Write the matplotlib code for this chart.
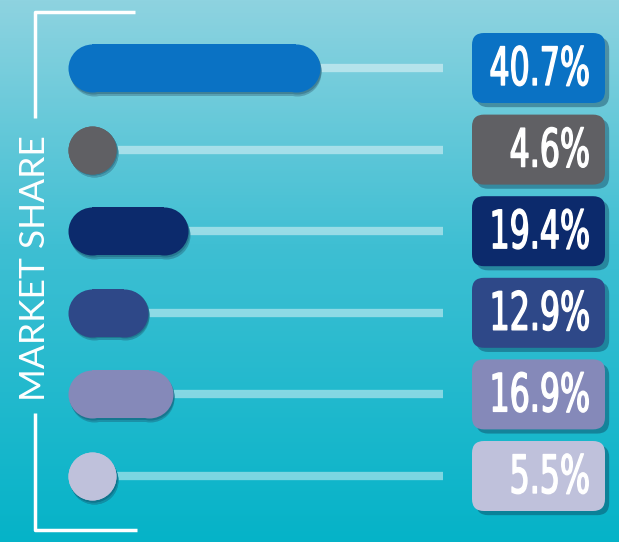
import numpy as np
import matplotlib
matplotlib.use("Agg")
import matplotlib.pyplot as plt
import matplotlib.patheffects as pe
from matplotlib.patches import FancyBboxPatch
from matplotlib.transforms import Affine2D, offset_copy
from matplotlib.colors import to_rgb

shares = [40.7, 4.6, 19.4, 12.9, 16.9, 5.5]
labels = ["40.7%", "4.6%", "19.4%", "12.9%", "16.9%", "5.5%"]
colors = ["#0a72c4", "#606064", "#0c2a6c", "#2e4888", "#8589b9", "#bfc1db"]
axis_title = "MARKET SHARE"

W, H = 619, 542
fig = plt.figure(figsize=(W / 100, H / 100), dpi=100)


class Squeeze(pe.AbstractPathEffect):
    # narrows text horizontally around a fixed display x (condensed look)
    def __init__(self, sx, anchor, lw=1.0):
        super().__init__()
        self.sx = sx
        self.anchor = anchor
        self.lw = lw

    def draw_path(self, renderer, gc, tpath, affine, rgbFace=None):
        x0 = self.anchor()
        t = affine + Affine2D().translate(-x0, 0).scale(self.sx, 1).translate(x0, 0)
        gc0 = renderer.new_gc()
        gc0.copy_properties(gc)
        gc0.set_linewidth(self.lw)
        gc0.set_foreground(rgbFace)
        renderer.draw_path(gc0, tpath, t, rgbFace)
        gc0.restore()


# background / overlay axes in pixel units
bg = fig.add_axes([0, 0, 1, 1])
bg.set_xlim(0, W)
bg.set_ylim(H, 0)
bg.axis("off")

top = np.array(to_rgb("#8ed3e0"))
mid = np.array(to_rgb("#3fbfd3"))
bot = np.array(to_rgb("#05b3c8"))


def bg_color(f):
    f = np.asarray(f, dtype=float)
    a = np.clip(f / 0.45, 0, 1)[..., None]
    b = np.clip((f - 0.45) / 0.55, 0, 1)[..., None]
    return np.where(f[..., None] < 0.45, top + (mid - top) * a, mid + (bot - mid) * b)


grad = bg_color(np.linspace(0, 1, 256))
bg.imshow(grad[:, None, :], extent=[0, W, H, 0], aspect="auto", zorder=0)

# bracket
bk = dict(color="white", lw=2.5, solid_capstyle="butt", zorder=2)
bg.plot([35, 35, 135], [118, 12, 12], **bk)
bg.plot([35, 35, 137], [413, 530, 530], **bk)
bg.text(35, 268, axis_title, rotation=90, ha="center", va="center",
        color="white", fontsize=25.5, family="Lato", zorder=2)

# bar axes in value units
row0, step = 68, 81.6
x0_px, x1_px = 68, 443
xmax = 60.6
ax = fig.add_axes([x0_px / W, 0, (x1_px - x0_px) / W, 1])
ax.set_xlim(0, xmax)
ax.set_ylim((H - row0) / step, -row0 / step)
ax.axis("off")
ax.patch.set_alpha(0)

bar_h = 48  # px
r_val = (bar_h / 2) / ((x1_px - x0_px) / xmax)
lw_pt = bar_h * 72 / 100
shade = np.array(to_rgb("#0b3550"))
shadow_tr = offset_copy(ax.transData, fig=fig, x=1.5, y=-3.5, units="dots")
blur_tr = offset_copy(ax.transData, fig=fig, x=1, y=-1.5, units="dots")

for i, (v, c) in enumerate(zip(shares, colors)):
    end = max(r_val, v - r_val)
    base = bg_color((row0 + step * i) / H)
    ax.plot([end, xmax], [i, i], color="white", alpha=0.45, lw=6, solid_capstyle="round", zorder=1)
    # capsule: thick butt line plus round ends as markers
    cap = dict(lw=lw_pt, solid_capstyle="butt", marker="o", markersize=lw_pt, markeredgewidth=0)
    ax.plot([r_val, end], [i, i], color=base + (shade - base) * 0.3, transform=shadow_tr, zorder=1.5, **cap)
    ax.plot([r_val, end], [i, i], color=base + (shade - base) * 0.5, transform=blur_tr, zorder=1.6, **cap)
    ax.plot([r_val, end], [i, i], color=c, zorder=2, **cap)

# value boxes
box_shadow = [pe.SimplePatchShadow(offset=(3, -3), shadow_rgbFace="#0b3550", alpha=0.4), pe.Normal()]
text_right = 590
anchor = lambda: bg.transData.transform((text_right, 0))[0]
for i, (lab, c) in enumerate(zip(labels, colors)):
    yc = row0 + step * i
    p = FancyBboxPatch((472 + 10, yc - 35 + 10), 133 - 20, 70 - 20,
                       boxstyle="round,pad=10,rounding_size=12", fc=c, ec="none",
                       path_effects=box_shadow, zorder=3)
    bg.add_patch(p)
    bg.text(text_right, yc + 2, lab, ha="right", va="center", color="white", fontsize=38,
            family="DejaVu Sans",
            path_effects=[Squeeze(0.6, anchor, lw=1.0)], zorder=4)

fig.savefig("out.png", dpi=100)
